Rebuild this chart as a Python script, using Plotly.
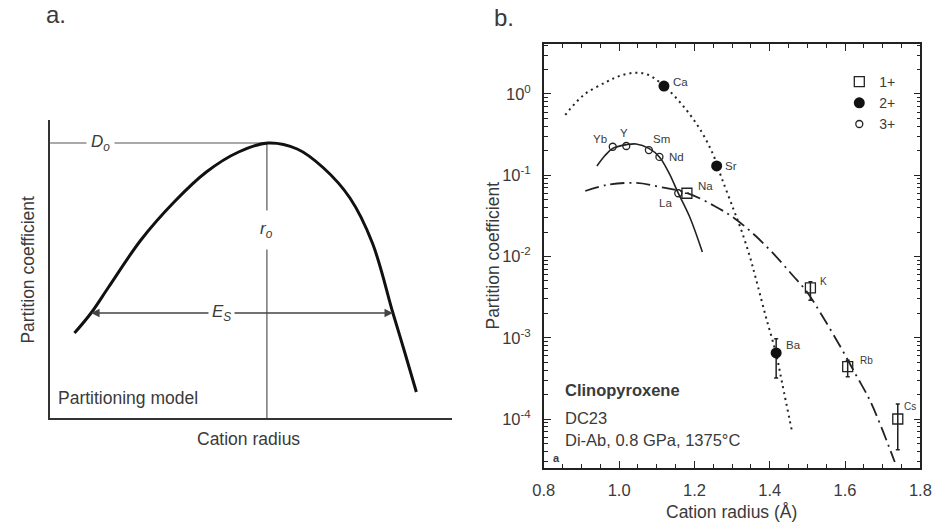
import numpy as np
import plotly.graph_objects as go

W, H = 947, 524
FONT = "Liberation Sans, Arial, sans-serif"
TXT = "#3a3a3a"
LINE = "#222222"

# ---------------- Panel b data ----------------
ion1_names = ["Na", "K", "Rb", "Cs"]
ion1_r = [1.180, 1.508, 1.607, 1.740]
ion1_D = [0.060, 0.0041, 0.00044, 0.00010]
ion1_hi = [0.060, 0.0049, 0.00053, 0.000153]
ion1_lo = [0.060, 0.0029, 0.00033, 0.0000417]

ion2_names = ["Ca", "Sr", "Ba"]
ion2_r = [1.119, 1.259, 1.417]
ion2_D = [1.25, 0.13, 0.00065]
ion2_hi = [1.25, 0.13, 0.00097]
ion2_lo = [1.25, 0.13, 0.00032]

ion3_names = ["Yb", "Y", "Sm", "Nd", "La"]
ion3_r = [0.983, 1.019, 1.079, 1.107, 1.157]
ion3_D = [0.224, 0.229, 0.204, 0.168, 0.060]

# fitted lattice-strain curves (log10 D)
fit1_r = [0.910, 0.967, 1.045, 1.110, 1.180, 1.253, 1.305, 1.356, 1.408, 1.460, 1.499, 1.538, 1.590, 1.629, 1.668, 1.732]
fit1_logD = [-1.194, -1.12, -1.095, -1.145, -1.218, -1.378, -1.526, -1.72, -1.957, -2.228, -2.437, -2.72, -3.13, -3.458, -3.791, -4.529]

fit2_r = [0.857, 0.906, 0.966, 1.000, 1.040, 1.075, 1.119, 1.174, 1.218, 1.251, 1.272, 1.303, 1.324, 1.347, 1.363, 1.389, 1.417, 1.433, 1.459]
fit2_logD = [-0.258, -0.012, 0.148, 0.22, 0.26, 0.24, 0.10, -0.17, -0.46, -0.76, -1.03, -1.41, -1.67, -2.0, -2.27, -2.73, -3.2, -3.56, -4.15]

fit3_r = [0.941, 0.962, 0.983, 1.019, 1.045, 1.079, 1.107, 1.131, 1.157, 1.188, 1.221]
fit3_logD = [-0.886, -0.76, -0.67, -0.625, -0.615, -0.67, -0.775, -0.96, -1.22, -1.52, -1.945]

x_ticks = [0.8, 1.0, 1.2, 1.4, 1.6, 1.8]
x_ticktext = ["0.8", "1.0", "1.2", "1.4", "1.6", "1.8"]
y_ticks = [1, 0.1, 0.01, 0.001, 0.0001]
y_ticktext = ["10<sup>0</sup>", "10<sup>-1</sup>", "10<sup>-2</sup>", "10<sup>-3</sup>", "10<sup>-4</sup>"]

# ---------------- Panel a data (schematic, arbitrary units) ----------------
model_x = [25, 42, 60, 93, 127, 160, 193, 223, 253, 280, 307, 330, 351, 363, 375]
model_y = [85, 105, 131, 178, 216, 246, 266, 275, 269, 250, 220, 175, 105, 66, 26]
peak_x, peak_y = 222, 275
es_y, es_left, es_right = 105, 42, 351

fig = go.Figure()

# ---- panel a ----
fig.add_trace(go.Scatter(x=model_x, y=model_y, mode="lines", line=dict(color="#111", width=3, shape="spline"),
                         xaxis="x2", yaxis="y2", showlegend=False, hoverinfo="skip"))

# ---- panel b curves ----
fig.add_trace(go.Scatter(x=fit2_r, y=[10 ** v for v in fit2_logD], mode="lines",
                         line=dict(color=LINE, width=2, dash="2px,4px", shape="spline"), showlegend=False))
fig.add_trace(go.Scatter(x=fit3_r, y=[10 ** v for v in fit3_logD], mode="lines",
                         line=dict(color=LINE, width=1.6, shape="spline"), showlegend=False))
fig.add_trace(go.Scatter(x=fit1_r, y=[10 ** v for v in fit1_logD], mode="lines",
                         line=dict(color=LINE, width=1.8, dash="14px,5px,2px,5px", shape="spline"), showlegend=False))

# ---- panel b points ----
def err(D, hi, lo):
    return dict(type="data", symmetric=False,
                array=[h - d for d, h in zip(D, hi)], arrayminus=[d - l for d, l in zip(D, lo)],
                color=LINE, thickness=1.5, width=2)

fig.add_trace(go.Scatter(x=ion1_r, y=ion1_D, mode="markers", name="1+",
                         marker=dict(symbol="square-open", size=10, color=LINE, line=dict(width=1.3)),
                         error_y=err(ion1_D, ion1_hi, ion1_lo)))
fig.add_trace(go.Scatter(x=ion2_r, y=ion2_D, mode="markers", name="2+",
                         marker=dict(symbol="circle", size=11, color="#111"),
                         error_y=err(ion2_D, ion2_hi, ion2_lo)))
fig.add_trace(go.Scatter(x=ion3_r, y=ion3_D, mode="markers", name="3+",
                         marker=dict(symbol="circle-open", size=7, color=LINE, line=dict(width=1.3))))

ann = []
lab_off = {
    "Na": ("left", 9, 7), "K": ("left", 8, 6), "Rb": ("left", 10, 6), "Cs": ("left", 4, 13),
    "Ca": ("left", 7, 4), "Sr": ("left", 6, 0), "Ba": ("left", 8, 8),
    "Yb": ("right", -4, 8), "Y": ("center", -2, 13), "Sm": ("center", 13, 11), "Nd": ("left", 8, 0),
    "La": ("center", -13, -10),
}
for names, rs, Ds in [(ion1_names, ion1_r, ion1_D), (ion2_names, ion2_r, ion2_D), (ion3_names, ion3_r, ion3_D)]:
    for n, r, d in zip(names, rs, Ds):
        xa, xs, ys = lab_off[n]
        fs = 10 if n in ("K", "Rb", "Cs") else 11.5
        ann.append(dict(x=r, y=np.log10(d), xref="x", yref="y", text=n, showarrow=False,
                        xanchor=xa, yanchor="middle", xshift=xs, yshift=ys,
                        font=dict(size=fs, color=TXT, family=FONT)))

def px(xp, yp, text, size=17.5, xa="left", ya="middle", **kw):
    ann.append(dict(x=xp / W, y=1 - yp / H, xref="paper", yref="paper", text=text, showarrow=False,
                    xanchor=xa, yanchor=ya, font=dict(size=size, color=TXT, family=FONT), **kw))

# panel b texts
px(565, 390, "<b>Clinopyroxene</b>", 16.5)
px(565, 418, "DC23", 16.5)
px(565, 440, "Di-Ab, 0.8 GPa, 1375°C", 16.5)
px(553, 458, "<b>a</b>", 11)
px(738, 512, "Cation radius (Å)", 17.5, xa="center")
px(493, 256, "Partition coefficient", 17.5, xa="center", textangle=-90)
px(492, 17, "b.", 24)

# panel a texts
px(34, 15, "a.", 24)
px(46, 398, "Partitioning model", 17.5)
px(243, 439, "Cation radius", 17.5, xa="center")
px(17, 270, "Partition coefficient", 17.5, xa="center", textangle=-90)

# panel a annotations in data coordinates
mid = 176
for xe in (es_left, es_right):
    ann.append(dict(x=xe, y=es_y, ax=mid, ay=es_y, xref="x2", yref="y2", axref="x2", ayref="y2",
                    text="", showarrow=True, arrowhead=2, arrowsize=1.3, arrowwidth=1.3, arrowcolor="#444"))
ann.append(dict(x=mid, y=es_y, xref="x2", yref="y2", text="<i>E</i><sub><i>S</i></sub>", showarrow=False,
                bgcolor="white", borderpad=3, font=dict(size=17, color=TXT, family=FONT)))
ann.append(dict(x=52, y=peak_y, xref="x2", yref="y2", text="<i>D</i><sub><i>o</i></sub>", showarrow=False,
                bgcolor="white", borderpad=4, font=dict(size=17, color=TXT, family=FONT)))
ann.append(dict(x=peak_x, y=188, xref="x2", yref="y2", text="<i>r</i><sub><i>o</i></sub>", showarrow=False,
                bgcolor="white", borderpad=8, font=dict(size=17, color=TXT, family=FONT)))

shapes = [
    dict(type="line", xref="x2", yref="y2", x0=0, x1=peak_x, y0=peak_y, y1=peak_y, line=dict(color="#555", width=1.2), layer="below"),
    dict(type="line", xref="x2", yref="y2", x0=peak_x, x1=peak_x, y0=0, y1=peak_y, line=dict(color="#555", width=1.2), layer="below"),
]

minor_y = [m * 10.0 ** k for k in range(-5, 1) for m in range(2, 10)]

fig.update_layout(
    width=W, height=H, margin=dict(l=0, r=0, t=0, b=0),
    paper_bgcolor="white", plot_bgcolor="white",
    font=dict(family=FONT, color=TXT),
    annotations=ann, shapes=shapes,
    legend=dict(x=848 / W, y=1 - 66 / H, xanchor="left", yanchor="top", bgcolor="rgba(0,0,0,0)",
                font=dict(size=14, color=TXT, family=FONT), itemwidth=30, tracegroupgap=0),
    xaxis=dict(domain=[545.5 / W, 931 / W], range=[0.8, 1.8], tickvals=x_ticks, ticktext=x_ticktext,
               showline=True, linecolor=LINE, linewidth=1.5, mirror="allticks", ticks="inside", ticklen=7,
               tickcolor=LINE, tickwidth=1.3, showgrid=False, zeroline=False,
               tickfont=dict(size=16.5, color=TXT, family=FONT), ticklabelstandoff=6,
               minor=dict(ticks="inside", dtick=0.05, tick0=0.8, ticklen=4, tickcolor=LINE, tickwidth=1, showgrid=False)),
    yaxis=dict(domain=[1 - 468 / H, 1 - 44 / H], type="log", range=[-4.603, 0.615],
               tickvals=y_ticks, ticktext=y_ticktext,
               showline=True, linecolor=LINE, linewidth=1.5, mirror="allticks", ticks="inside", ticklen=7,
               tickcolor=LINE, tickwidth=1.3, showgrid=False, zeroline=False,
               tickfont=dict(size=16.5, color=TXT, family=FONT), ticklabelstandoff=8,
               minor=dict(ticks="inside", tickvals=minor_y, ticklen=4, tickcolor=LINE, tickwidth=1, showgrid=False)),
    xaxis2=dict(domain=[40 / W, 452 / W], range=[0, 412], anchor="y2", showline=True, linecolor="#333",
                linewidth=1.8, showticklabels=False, ticks="", showgrid=False, zeroline=False),
    yaxis2=dict(domain=[1 - 418 / H, 1 - 120 / H], range=[0, 298], anchor="x2", showline=True, linecolor="#333",
                linewidth=1.8, showticklabels=False, ticks="", showgrid=False, zeroline=False),
)

fig.write_html("out.html", config={"displayModeBar": False},
               post_script="document.body.style.margin='0px';document.body.style.overflow='hidden';")
